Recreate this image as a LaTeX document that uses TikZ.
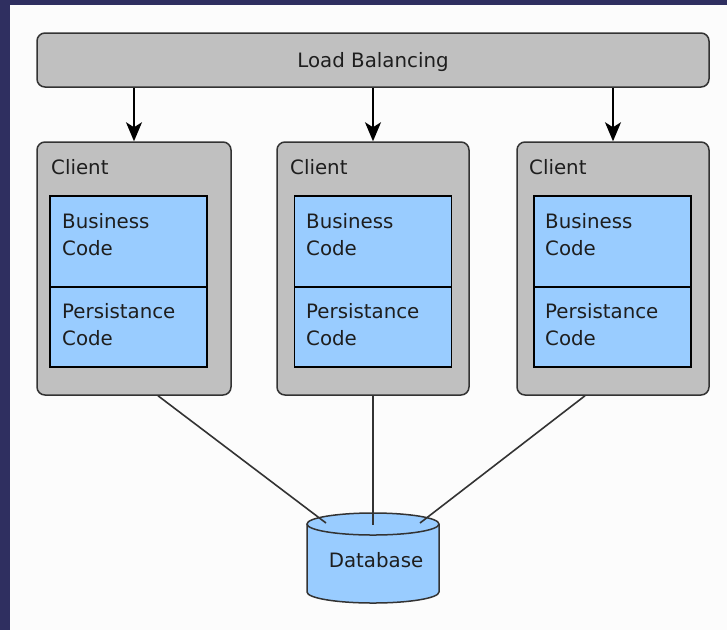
\documentclass[tikz,border=0pt]{standalone}
\usepackage{fontspec}
\setmainfont{DejaVu Sans}
\usetikzlibrary{arrows.meta}
\definecolor{frame}{HTML}{2F2F60}
\definecolor{paper}{HTML}{FCFCFC}
\definecolor{boxgray}{HTML}{C0C0C0}
\definecolor{codeblue}{HTML}{99CCFF}
\definecolor{ink}{HTML}{1E1E1E}
\definecolor{edge}{HTML}{333333}

\begin{document}
\begin{tikzpicture}[x=1pt,y=-1pt,
  every node/.style={font=\fontsize{19.8}{27}\selectfont, text=ink},
  panel/.style={draw=edge, line width=1.5pt, fill=boxgray, rounded corners=8pt, inner sep=0pt},
  codebox/.style={draw=black, line width=1.5pt, fill=codeblue, inner sep=0pt},
  label/.style={anchor=base west, inner sep=0pt},
  feed/.style={-{Stealth[length=19pt,width=16pt,inset=5pt]}, line width=1.5pt, black},
  wire/.style={draw=edge, line width=1.6pt},
  drum/.style={fill=codeblue, draw=edge, line width=1.5pt}]
\useasboundingbox (0,0) rectangle (727,630);
\fill[frame] (0,0) rectangle (727,630);
\fill[paper] (10,5) rectangle (727,630);

% load balancer across the top
\node[panel, minimum width=672pt, minimum height=54pt, text depth=0pt] (lb) at (373,60) {Load Balancing};

% the three client panels with their code layers
\foreach \i/\cx/\cw/\lx/\bx/\tx in {1/134/194/51/128.5/62, 2/373/192/290/373/306, 3/613/192/529/612.5/545} {
  \node[panel, minimum width=\cw pt, minimum height=253pt] (c\i) at (\cx,268.5) {};
  \node[label] (cl\i) at (\lx,174) {Client};
  \node[codebox, minimum width=157pt, minimum height=91pt] (b\i) at (\bx,241.5) {};
  \node[codebox, minimum width=157pt, minimum height=80pt] (p\i) at (\bx,327) {};
  \node[label] (bt\i) at (\tx,228) {Business};
  \node[label] (bc\i) at (\tx,255) {Code};
  \node[label] (pt\i) at (\tx,318) {Persistance};
  \node[label] (pc\i) at (\tx,345) {Code};
  \draw[feed] (lb.south -| c\i.north) -- (c\i.north);
}

% database drum
\path[drum] (307,524) -- (307,592) arc[start angle=180, end angle=0, x radius=66, y radius=11] -- (439,524);
\draw[drum] (373,524) ellipse[x radius=66, y radius=11];
\node (db) at (376,560.5) {Database};

\coordinate (dbL) at (326,523);
\coordinate (dbM) at (373,525);
\coordinate (dbR) at (420,523);

\draw[wire] ([xshift=24pt]c1.south) -- (dbL);
\draw[wire] (c2.south) -- (dbM);
\draw[wire] ([xshift=-28pt]c3.south) -- (dbR);
\end{tikzpicture}
\end{document}
